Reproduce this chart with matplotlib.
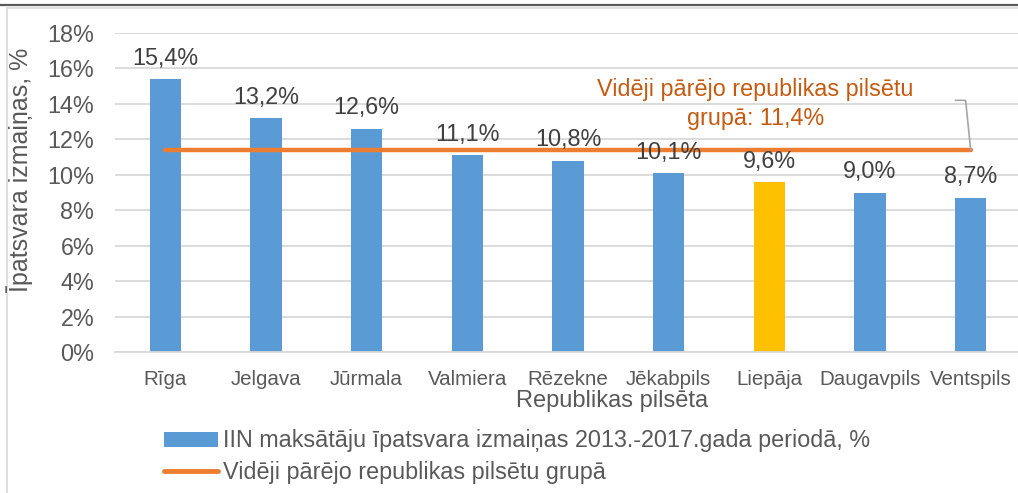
import matplotlib
matplotlib.use("Agg")
import matplotlib.pyplot as plt
from matplotlib.lines import Line2D
from matplotlib.patches import Patch, Rectangle

plt.rcParams['font.family'] = ['Liberation Sans', 'DejaVu Sans']

cities = ["Rīga", "Jelgava", "Jūrmala", "Valmiera", "Rēzekne", "Jēkabpils",
          "Liepāja", "Daugavpils", "Ventspils"]
values = [15.4, 13.2, 12.6, 11.1, 10.8, 10.1, 9.6, 9.0, 8.7]
value_labels = ["15,4%", "13,2%", "12,6%", "11,1%", "10,8%", "10,1%",
                "9,6%", "9,0%", "8,7%"]
average = [11.4] * 9
yticks = [0, 2, 4, 6, 8, 10, 12, 14, 16, 18]
ytick_labels = ["0%", "2%", "4%", "6%", "8%", "10%", "12%", "14%", "16%", "18%"]
highlight = "Liepāja"

bar_label = "IIN maksātāju īpatsvara izmaiņas 2013.-2017.gada periodā, %"
line_label = "Vidēji pārējo republikas pilsētu grupā"
annot_text = "Vidēji pārējo republikas pilsētu\ngrupā: 11,4%"
xlabel = "Republikas pilsēta"
ylabel = "Īpatsvara izmaiņas, %"

BLUE = "#5B9BD5"
YELLOW = "#FFC000"
ORANGE = "#ED7D31"
DARK_ORANGE = "#C55A11"
TEXT = "#595959"
GRID = "#D9D9D9"

W, H = 1018, 493
fig = plt.figure(figsize=(W / 100, H / 100), dpi=100)

# outer chart border & top dark line
fig.add_artist(Rectangle((7 / W, -0.1), 1.1, (H - 8) / H + 0.1, transform=fig.transFigure,
                         fill=False, edgecolor=GRID, lw=1.2))
fig.add_artist(Line2D([0, 1], [(H - 4.5) / H] * 2, transform=fig.transFigure,
                      color="#5a5a5a", lw=1.6))

ax = fig.add_axes([115 / W, 141 / H, (1021 - 115) / W, (460 - 141) / H])
x = list(range(len(cities)))
colors = [YELLOW if c == highlight else BLUE for c in cities]
bars = ax.bar(x, values, width=0.31, color=colors, zorder=2)
ax.plot(x, average, color=ORANGE, lw=3.2, solid_capstyle='round', zorder=3)

for xi, v, lab in zip(x, values, value_labels):
    ax.annotate(lab, (xi, v), xytext=(0, 15), textcoords='offset points',
                ha='center', va='center', fontsize=16.8, color="#404040", zorder=4)

ax.set_xlim(-0.5, len(cities) - 0.5)
ax.set_ylim(0, 18)
ax.set_yticks(yticks)
ax.set_yticklabels(ytick_labels, fontsize=16.8, color=TEXT)
ax.set_xticks(x)
ax.set_xticklabels(cities, fontsize=14.8, color=TEXT)
ax.tick_params(axis='y', length=0, pad=15)
ax.tick_params(axis='x', length=0, pad=13)
ax.grid(axis='y', color=GRID, lw=1.3, zorder=0)
for s in ["top", "right", "left"]:
    ax.spines[s].set_visible(False)
ax.spines["bottom"].set_color(GRID)
ax.spines["bottom"].set_linewidth(1.3)
ax.set_axisbelow(True)

# annotation for the average line with leader
last = len(cities) - 1
ax.annotate(annot_text, (last, average[-1]), xytext=(5.86, 14.0),
            textcoords='data', ha='center', va='center', fontsize=16.8,
            color=DARK_ORANGE, linespacing=1.3, zorder=4)
ax.plot([7.85, 7.95, last], [14.2, 14.2, average[-1]], color="#A5A5A5", lw=1.2, zorder=3)

# axis titles
fig.text(612 / W, 1 - 401 / H, xlabel, ha='center', va='center', fontsize=17, color=TEXT)
fig.text(20 / W, 1 - 170 / H, ylabel, ha='center', va='center', rotation=90,
         fontsize=18, color=TEXT)

handles = [Patch(facecolor=BLUE, edgecolor='none', label=bar_label),
           Line2D([0], [0], color=ORANGE, lw=3.5, solid_capstyle='round', label=line_label)]
leg = fig.legend(handles=handles, loc='upper left', bbox_to_anchor=(155 / W, 1 - 420 / H),
                 frameon=False, fontsize=16.8, labelcolor=TEXT, handlelength=2.3,
                 handleheight=0.6, handletextpad=0.2, labelspacing=0.35, borderaxespad=0)

fig.savefig("out.png", dpi=100)
